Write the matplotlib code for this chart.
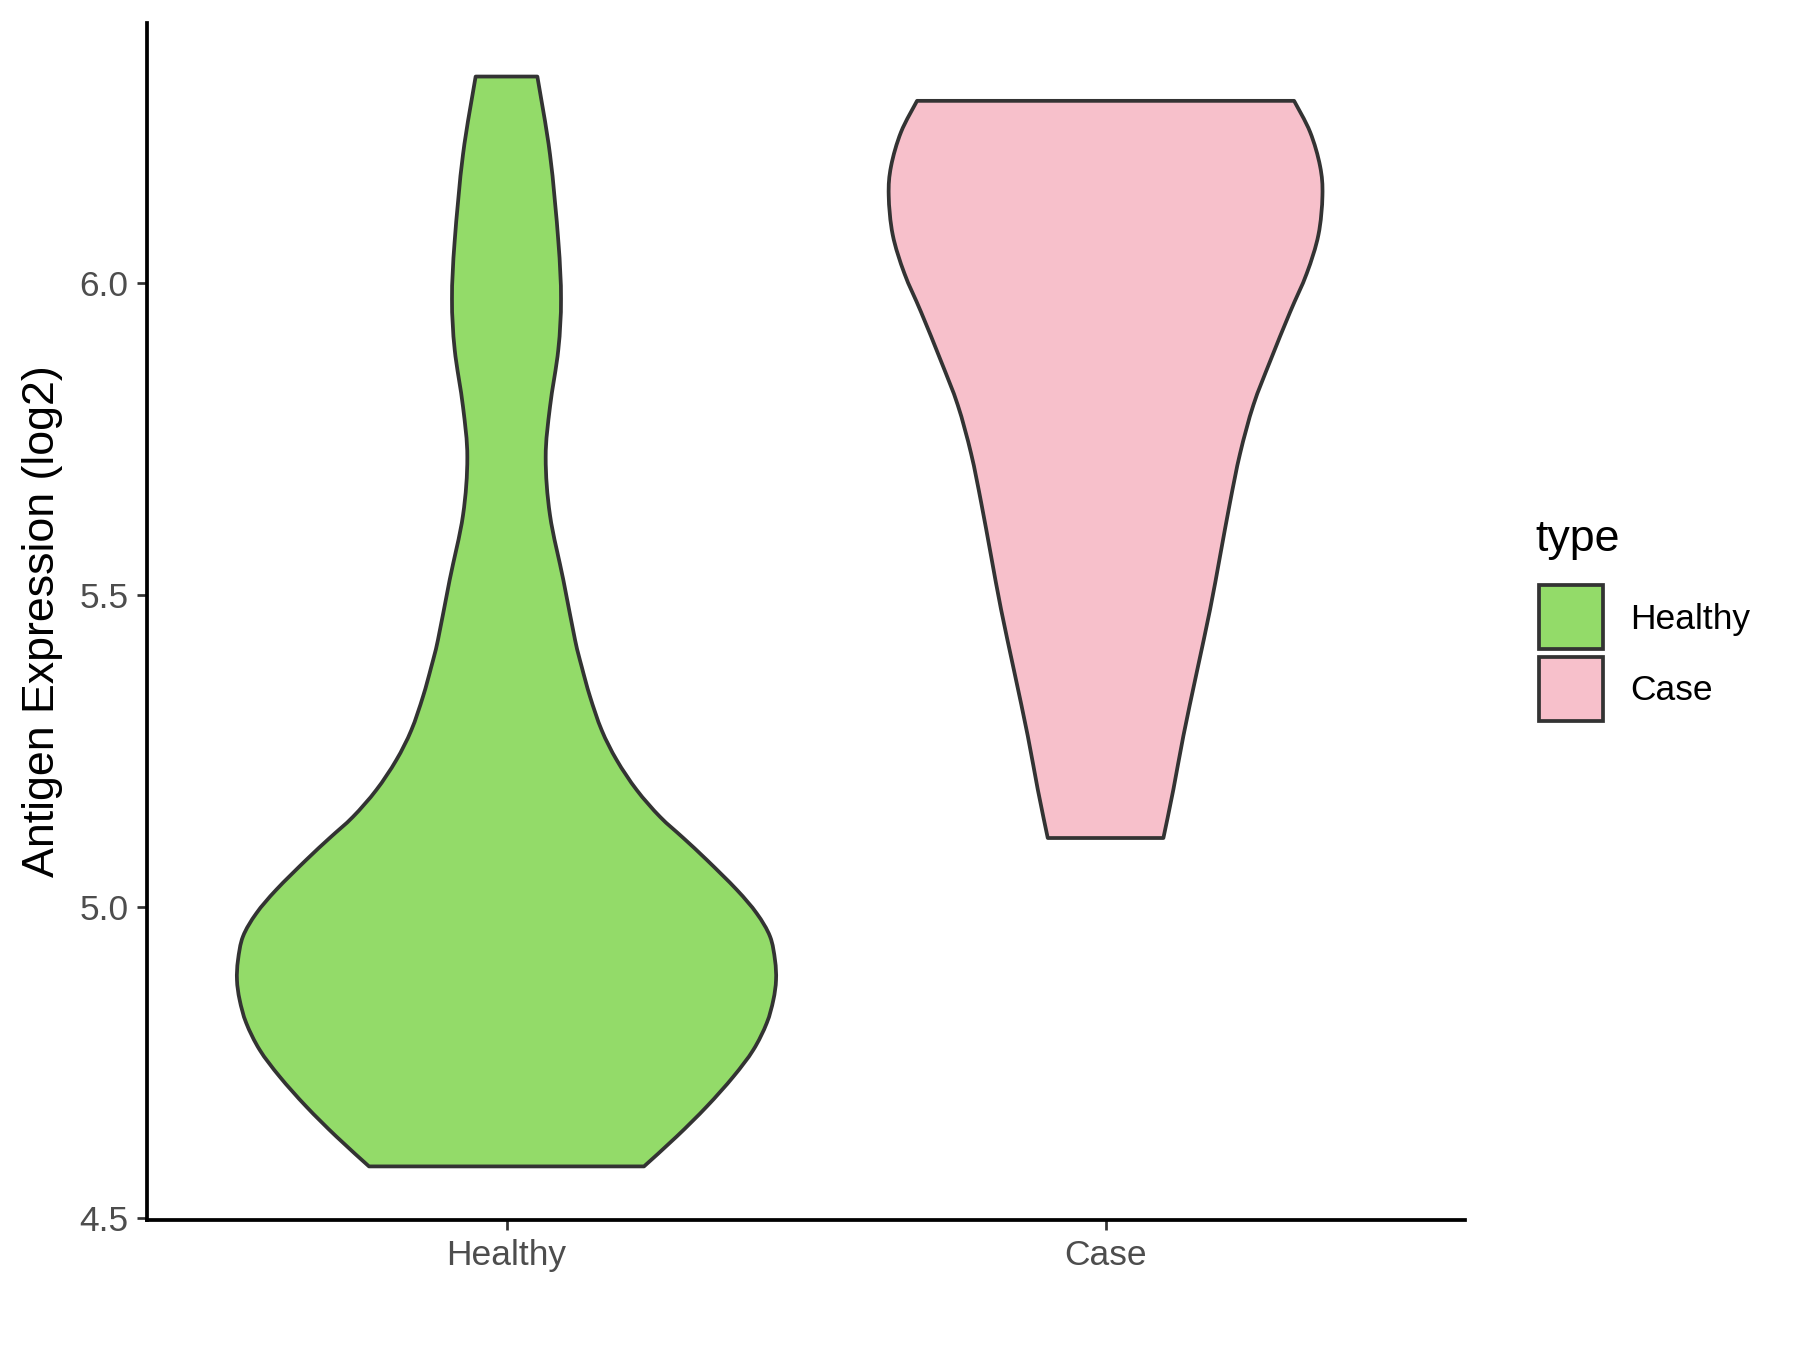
import matplotlib
matplotlib.use("Agg")
import matplotlib.pyplot as plt
from matplotlib.patches import Rectangle, PathPatch
from matplotlib.path import Path
import numpy as np

plt.rcParams['font.family'] = ['Liberation Sans', 'DejaVu Sans']

categories = ["Healthy", "Case"]
colors = ["#93DB69", "#F7C0CB"]

# violin outline profiles: y value and half-width (category units)
healthy_y = [6.332, 6.207, 6.068, 5.975, 5.894, 5.802, 5.721, 5.628, 5.524, 5.428,
             5.385, 5.337, 5.283, 5.235, 5.187, 5.144, 5.110, 5.075, 5.027, 4.989,
             4.952, 4.914, 4.882, 4.850, 4.813, 4.770, 4.727, 4.679, 4.631, 4.583]
healthy_hw = [0.0515, 0.0726, 0.0865, 0.0910, 0.0865, 0.0726, 0.0654, 0.0726, 0.0949, 0.1144,
              0.1255, 0.1394, 0.1589, 0.1840, 0.2174, 0.2563, 0.2952, 0.3342, 0.3843, 0.4177,
              0.4399, 0.4482, 0.4499, 0.4454, 0.4344, 0.4120, 0.3786, 0.3342, 0.2841, 0.2295]

case_y = [6.293, 6.243, 6.188, 6.141, 6.078, 6.016, 5.954, 5.875, 5.805, 5.727,
          5.649, 5.563, 5.477, 5.376, 5.274, 5.188, 5.110]
case_hw = [0.3147, 0.3414, 0.3581, 0.3620, 0.3553, 0.3358, 0.3080, 0.2746, 0.2468, 0.2245,
           0.2078, 0.1912, 0.1745, 0.1522, 0.1299, 0.1132, 0.0965]

y_ticks = [4.5, 5.0, 5.5, 6.0]
y_tick_labels = ["4.5", "5.0", "5.5", "6.0"]
y_label = "Antigen Expression (log2)"
legend_title = "type"


def smooth_segments(pts):
    """Bezier (CURVE4) pieces passing through the given outline points."""
    n = len(pts)
    verts, codes = [], []
    for i in range(n - 1):
        p0 = pts[max(i - 1, 0)]
        p1 = pts[i]
        p2 = pts[i + 1]
        p3 = pts[min(i + 2, n - 1)]
        c1 = p1 + (p2 - p0) / 6.0
        c2 = p2 - (p3 - p1) / 6.0
        verts += [c1, c2, p2]
        codes += [Path.CURVE4] * 3
    return verts, codes


def violin_path(pos, ys, hws):
    ys = np.asarray(ys)
    hws = np.asarray(hws)
    right = np.column_stack([pos + hws, ys])
    left = np.column_stack([pos - hws, ys])[::-1]
    verts = [right[0]]
    codes = [Path.MOVETO]
    v, c = smooth_segments(right)
    verts += v
    codes += c
    verts.append(left[0])
    codes.append(Path.LINETO)
    v, c = smooth_segments(left)
    verts += v
    codes += c
    verts.append(right[0])
    codes.append(Path.CLOSEPOLY)
    return Path(np.array(verts), codes)


fig = plt.figure(figsize=(12, 9), dpi=150)
ax = fig.add_axes([0.0817, 0.0963, 0.7322, 0.8867])

profiles = [(healthy_y, healthy_hw), (case_y, case_hw)]
for i, ((ys, hws), col) in enumerate(zip(profiles, colors)):
    path = violin_path(i + 1, ys, hws)
    ax.add_patch(PathPatch(path, facecolor=col, edgecolor="#333333", linewidth=1.8,
                           joinstyle="round"))

ax.set_xlim(0.4, 2.6)
ax.set_ylim(4.497, 6.418)
ax.set_xticks([1, 2])
ax.set_xticklabels(categories)
ax.set_yticks(y_ticks)
ax.set_yticklabels(y_tick_labels)
ax.tick_params(axis='both', colors="#333333", length=5, width=1.3, labelsize=17,
               labelcolor="#4D4D4D", pad=4)
for s in ["top", "right"]:
    ax.spines[s].set_visible(False)
for s in ["left", "bottom"]:
    ax.spines[s].set_linewidth(1.8)
    ax.spines[s].set_color("black")
ax.set_ylabel(y_label, fontsize=21.5, labelpad=8)

# legend (drawn in figure pixel space)
W, H = 1800, 1350
def fx(px):
    return px / W
def fy(py):
    return 1 - py / H

fig.text(fx(1535), fy(540), legend_title, fontsize=21.5, va="center", ha="left")
key_tops = [585, 657]
for top, col, lab in zip(key_tops, colors, categories):
    r = Rectangle((fx(1539), fy(top + 64)), fx(64), 64 / H, transform=fig.transFigure,
                  facecolor=col, edgecolor="#333333", linewidth=1.8)
    fig.add_artist(r)
    fig.text(fx(1630), fy(top + 34), lab, fontsize=17, va="center", ha="left")

fig.savefig("out.png", dpi=150, facecolor="white")
